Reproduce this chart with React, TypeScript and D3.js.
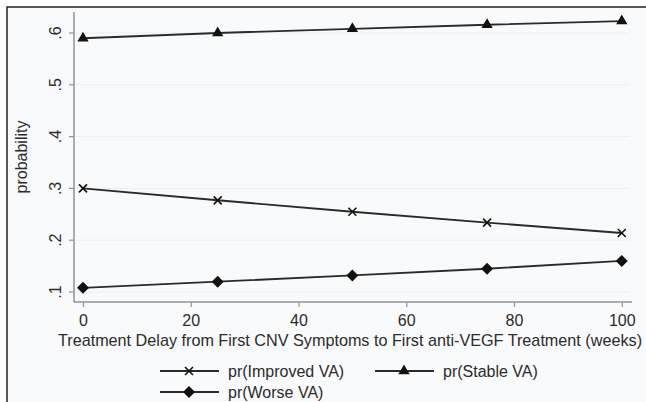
import React, { useEffect, useRef } from 'react';
import * as d3 from 'd3';

const delays = [0, 25, 50, 75, 100];
const improved = [0.3, 0.277, 0.255, 0.234, 0.214];
const stable = [0.59, 0.6, 0.608, 0.616, 0.623];
const worse = [0.108, 0.12, 0.132, 0.145, 0.16];
const xTicks = [0, 20, 40, 60, 80, 100];
const yTicks = [0.1, 0.2, 0.3, 0.4, 0.5, 0.6];
const yTickLabels = ['.1', '.2', '.3', '.4', '.5', '.6'];

export default function App() {
  const svgRef = useRef<SVGSVGElement | null>(null);

  useEffect(() => {
    if (!svgRef.current) return;
    const width = 646;
    const height = 402;
    const font = '"Liberation Sans", Arial, sans-serif';

    d3.select(svgRef.current).selectAll('*').remove();
    const svg = d3.select(svgRef.current).attr('width', width).attr('height', height);

    // outer frame
    svg.append('rect').attr('x', 0).attr('y', 0).attr('width', width).attr('height', height).attr('fill', '#ffffff');
    svg.append('rect').attr('x', 7).attr('y', 7).attr('width', width).attr('height', height).attr('fill', '#f9fafb')
      .attr('stroke', '#222').attr('stroke-width', 1.5);

    const left = 74, right = 632, top = 12, bottom = 302;
    const x = d3.scaleLinear().domain([-1.67, 101.9]).range([left, right]);
    const y = d3.scaleLinear().domain([0.1, 0.6]).range([292, 33]);

    // gridlines
    svg.append('g').selectAll('line').data(yTicks).join('line')
      .attr('x1', left + 1).attr('x2', right - 2)
      .attr('y1', d => y(d)).attr('y2', d => y(d))
      .attr('stroke', '#eceef0').attr('stroke-width', 1);

    // axes
    const gx = svg.append('g').attr('transform', `translate(0,${bottom})`)
      .call(d3.axisBottom(x).tickValues(xTicks).tickSize(5).tickPadding(8).tickFormat(d => `${d}`));
    gx.select('.domain').attr('stroke', '#8d939b').attr('stroke-width', 1.5).attr('d', `M${left},0H${right}`);
    gx.selectAll('line').attr('stroke', '#8d939b').attr('stroke-width', 1.2);
    gx.selectAll('text').attr('fill', '#2b2b2b').style('font-family', font).style('font-size', '16px');

    const gy = svg.append('g').attr('transform', `translate(${left},0)`)
      .call(d3.axisLeft(y).tickValues(yTicks).tickSize(5).tickFormat((d, i) => yTickLabels[i]));
    gy.select('.domain').attr('stroke', '#8d939b').attr('stroke-width', 1.5).attr('d', `M0,${top}V${bottom}`);
    gy.selectAll('line').attr('stroke', '#8d939b').attr('stroke-width', 1.2);
    gy.selectAll('text')
      .attr('fill', '#2b2b2b').style('font-family', font).style('font-size', '16px')
      .attr('x', null).attr('dy', null)
      .attr('text-anchor', 'middle')
      .attr('transform', d => `translate(-19,${y(d as number)}) rotate(-90)`)
      .attr('y', 0).attr('dy', '0.35em');
    gy.selectAll('.tick').attr('transform', null);
    gy.selectAll('.tick line').attr('transform', d => `translate(0,${y(d as number)})`);

    // axis titles
    svg.append('text').attr('x', 350).attr('y', 346).attr('text-anchor', 'middle')
      .attr('fill', '#2b2b2b').style('font-family', font).style('font-size', '16.2px')
      .text('Treatment Delay from First CNV Symptoms to First anti-VEGF Treatment (weeks)');
    svg.append('text').attr('transform', `translate(21,157) rotate(-90)`).attr('text-anchor', 'middle')
      .attr('dy', '0.35em')
      .attr('fill', '#2b2b2b').style('font-family', font).style('font-size', '16px')
      .text('probability');

    const line = d3.line<number>().x((d, i) => x(delays[i])).y(d => y(d));

    const cross = (g: any, cx: number, cy: number) => {
      const s = 4;
      g.append('path').attr('d', `M${cx - s},${cy - s}L${cx + s},${cy + s}M${cx - s},${cy + s}L${cx + s},${cy - s}`)
        .attr('stroke', '#111').attr('stroke-width', 1.6).attr('fill', 'none');
    };
    const tri = (g: any, cx: number, cy: number) => {
      g.append('path').attr('d', d3.symbol(d3.symbolTriangle, 55)()).attr('transform', `translate(${cx},${cy})`)
        .attr('fill', '#111');
    };
    const diamond = (g: any, cx: number, cy: number) => {
      const s = 6;
      g.append('path').attr('d', `M${cx},${cy - s}L${cx + s},${cy}L${cx},${cy + s}L${cx - s},${cy}Z`).attr('fill', '#111');
    };

    const series = [
      { vals: improved, marker: cross },
      { vals: stable, marker: tri },
      { vals: worse, marker: diamond },
    ];
    const plot = svg.append('g');
    series.forEach(s => {
      plot.append('path').datum(s.vals).attr('d', line).attr('fill', 'none')
        .attr('stroke', '#2a2a2a').attr('stroke-width', 1.9);
      s.vals.forEach((v, i) => s.marker(plot, x(delays[i]), y(v)));
    });

    // legend
    const legend = [
      { label: 'pr(Improved VA)', marker: cross, lx: 160, ly: 371 },
      { label: 'pr(Stable VA)', marker: tri, lx: 375, ly: 371 },
      { label: 'pr(Worse VA)', marker: diamond, lx: 160, ly: 392 },
    ];
    const lg = svg.append('g');
    legend.forEach(l => {
      lg.append('line').attr('x1', l.lx).attr('x2', l.lx + 59).attr('y1', l.ly).attr('y2', l.ly)
        .attr('stroke', '#2a2a2a').attr('stroke-width', 1.9);
      l.marker(lg, l.lx + 29, l.ly);
      lg.append('text').attr('x', l.lx + 68).attr('y', l.ly).attr('dy', '0.35em')
        .attr('fill', '#2b2b2b').style('font-family', font).style('font-size', '16px').text(l.label);
    });
  }, []);

  return <svg ref={svgRef} style={{ position: 'fixed', left: 0, top: 0 }} />;
}
